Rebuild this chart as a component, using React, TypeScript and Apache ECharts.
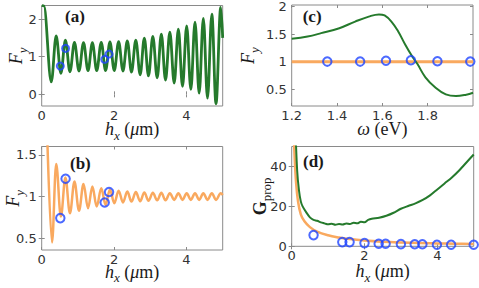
import React, { useEffect, useRef } from 'react';
import * as echarts from 'echarts';

// ---------- data ----------
// shared positions of the oscillation extrema (peaks / troughs) in h_x (μm)
const hxExtrema = [0.40, 0.53, 0.655, 0.78, 0.905, 1.03, 1.155, 1.28, 1.40, 1.52, 1.645, 1.765, 1.885, 2.005, 2.125, 2.245, 2.365, 2.48, 2.60, 2.72, 2.835, 2.95, 3.07, 3.19, 3.305, 3.42, 3.54, 3.66, 3.775, 3.89, 4.005, 4.12, 4.235, 4.35, 4.465, 4.58, 4.70, 4.815, 4.945];

// (a) green F_y
const hxA = [0, 0.06, 0.265, ...hxExtrema, 5.0];
const fyA = [2.36, 2.35, 0.33,
  1.55, 0.56, 1.44, 0.60, 1.38, 0.62, 1.37, 0.63, 1.37, 0.63, 1.38, 0.63, 1.39, 0.63, 1.40, 0.62, 1.42, 0.59,
  1.44, 0.52, 1.49, 0.49, 1.54, 0.44, 1.60, 0.38, 1.65, 0.30, 1.73, 0.21, 1.82, 0.13, 1.92, 0.03, 2.02, -0.10,
  2.13, -0.25, 2.31, 1.5];
const circHxA = [0.514, 0.66, 1.74, 1.86];
const circFyA = [0.75, 1.22, 0.93, 1.07];

// (b) orange F_y
const hxB = [0.11, 0.285, ...hxExtrema, 5.0];
const fyB = [2.4, 0.45,
  1.39, 0.76, 1.23, 0.80, 1.18, 0.83, 1.15, 0.86, 1.12, 0.88, 1.10, 0.90, 1.085, 0.92, 1.07, 0.93, 1.06, 0.94,
  1.055, 0.945, 1.05, 0.95, 1.045, 0.955, 1.045, 0.955, 1.04, 0.96, 1.04, 0.96, 1.04, 0.96, 1.04, 0.96, 1.04, 0.96,
  1.04, 0.96, 1.04, 1.02];
const circHxB = [0.514, 0.66, 1.74, 1.86];
const circFyB = [0.742, 1.214, 0.929, 1.055];

// (c) F_y vs ω (eV)
const omegaGreen = [1.2, 1.27, 1.33, 1.41, 1.48, 1.54, 1.585, 1.61, 1.64, 1.67, 1.70, 1.73, 1.755, 1.79, 1.835, 1.88, 1.925, 1.97, 2.0];
const fyGreenC = [1.42, 1.46, 1.52, 1.61, 1.73, 1.82, 1.86, 1.84, 1.73, 1.55, 1.32, 1.11, 0.96, 0.72, 0.53, 0.41, 0.38, 0.405, 0.44];
const omegaOrange = [1.2, 1.4, 1.6, 1.8, 2.0];
const fyOrangeC = [1.0, 1.0, 1.0, 1.0, 1.0];
const omegaCirc = [1.357, 1.502, 1.616, 1.726, 1.843, 1.988];
const fyCircC = [1.005, 1.005, 1.02, 1.03, 1.01, 1.005];

// (d) G_prop vs h_x
const hxDGreen = [0.1, 0.15, 0.2, 0.25, 0.3, 0.4, 0.5, 0.6, 0.7, 0.8, 0.9, 1.0, 1.1, 1.2, 1.3, 1.4, 1.5, 1.6, 1.7, 1.8, 1.9, 2.0, 2.1, 2.2, 2.4, 2.6, 2.8, 3.0, 3.2, 3.4, 3.6, 3.8, 4.0, 4.2, 4.4, 4.6, 4.8, 5.0];
const gDGreen = [60, 38, 28, 22.5, 20, 17, 14.5, 13.2, 12.8, 12, 11.5, 11, 11.3, 10.8, 11.2, 10.9, 11.4, 11.2, 11.8, 11.5, 12.3, 12.0, 13.2, 13.8, 14.3, 15.3, 16.8, 18.8, 20.2, 21.5, 23.2, 25.5, 28.5, 31.5, 34.5, 38, 42, 46];
const hxDOrange = [0.05, 0.08, 0.12, 0.17, 0.25, 0.35, 0.5, 0.7, 1.0, 1.3, 1.6, 2.0, 2.5, 3.0, 3.5, 4.0, 4.5, 5.0];
const gDOrange = [60, 45, 32, 23, 16, 12.5, 9.6, 7.3, 5.5, 4.4, 3.6, 2.9, 2.3, 1.9, 1.6, 1.45, 1.3, 1.2];
const hxDCirc = [0.6, 1.39, 1.59, 2.0, 2.39, 2.58, 3.0, 3.38, 3.59, 3.99, 4.38, 5.0];
const gDCirc = [5.6, 2.1, 2.1, 1.6, 1.25, 1.25, 1.1, 1.0, 1.0, 0.8, 0.8, 0.8];

// tick values
const xTicksH = [0, 2, 4];
const yTicksA = [0, 1, 2];
const yTicksB = [0.5, 1, 1.5];
const xTicksC = [1.2, 1.4, 1.6, 1.8];
const yTicksC = [0.5, 1, 1.5, 2];
const yTicksD = [0, 20, 40];

// ---------- styling ----------
const GREEN = '#257a2c';
const ORANGE = '#f9a95f';
const BLUE = '#1f45ff';
const BOX = '#8a8a8a';
const SERIF = 'Liberation Serif';
const TICKFONT = 'DejaVu Sans';

const RICH = {
  i: { fontFamily: SERIF, fontStyle: 'italic', fontSize: 18, lineHeight: 19, verticalAlign: 'top', color: '#1a1a1a' },
  n: { fontFamily: SERIF, fontSize: 18, lineHeight: 19, verticalAlign: 'top', color: '#1a1a1a' },
  b: { fontFamily: SERIF, fontWeight: 'bold', fontSize: 18, lineHeight: 19, verticalAlign: 'top', color: '#1a1a1a' },
  s: { fontFamily: SERIF, fontStyle: 'italic', fontSize: 13, lineHeight: 13, padding: [8.8, 0, 0, 0], verticalAlign: 'top', color: '#1a1a1a' },
  sn: { fontFamily: SERIF, fontSize: 13, lineHeight: 13, padding: [8.8, 0, 0, 0], verticalAlign: 'top', color: '#1a1a1a' },
};

const zip = (xs: number[], ys: number[]) => xs.map((x, i) => [x, ys[i]]);

type AxisSpec = { min: number; max: number; ticks: number[]; name: string; gap: number; fmt?: (v: number) => string };

function makeAxes(gi: number, xs: AxisSpec, ys: AxisSpec) {
  const tick = (ticks: number[]) => ({ show: true, inside: true, length: 3, customValues: ticks, lineStyle: { color: BOX, width: 1 } });
  const label = (ticks: number[], fmt?: (v: number) => string, margin = 5) => ({
    show: true, customValues: ticks, margin, fontFamily: TICKFONT, fontSize: 13, color: '#333',
    formatter: fmt || ((v: number) => String(v)),
  });
  const common = { type: 'value', gridIndex: gi, axisLine: { show: false }, splitLine: { show: false } };
  const nameStyle = { fontFamily: SERIF, fontSize: 18, rich: RICH };
  const xAxes = [
    { ...common, position: 'bottom', min: xs.min, max: xs.max, axisTick: tick(xs.ticks), axisLabel: label(xs.ticks, xs.fmt, 3),
      name: xs.name, nameLocation: 'middle', nameGap: xs.gap, nameMoveOverlap: false, nameTextStyle: nameStyle },
    { ...common, position: 'top', min: xs.min, max: xs.max, axisTick: tick(xs.ticks), axisLabel: { show: false } },
  ];
  const yAxes = [
    { ...common, position: 'left', min: ys.min, max: ys.max, axisTick: tick(ys.ticks), axisLabel: label(ys.ticks, ys.fmt, 5),
      name: ys.name, nameLocation: 'middle', nameRotate: 90, nameGap: ys.gap, nameMoveOverlap: false, nameTextStyle: nameStyle },
    { ...common, position: 'right', min: ys.min, max: ys.max, axisTick: tick(ys.ticks), axisLabel: { show: false } },
  ];
  return { xAxes, yAxes };
}

const hName = '{i|h}{s|x}{n| (}{i|μ}{n|m)}';
const fName = '{i|F}{s|y}';

const panels = [
  makeAxes(0, { min: 0, max: 5, ticks: xTicksH, name: hName, gap: 14 }, { min: -0.31, max: 2.36, ticks: yTicksA, name: fName, gap: 15.5 }),
  makeAxes(1, { min: 1.2, max: 2.0, ticks: xTicksC, name: '{i|ω}{n| (eV)}', gap: 13.5, fmt: (v) => v.toFixed(1) }, { min: 0.2, max: 2.03, ticks: yTicksC, name: fName, gap: 34 }),
  makeAxes(2, { min: 0, max: 5, ticks: xTicksH, name: hName, gap: 12.5 }, { min: 0.36, max: 1.6, ticks: yTicksB, name: fName, gap: 19 }),
  makeAxes(3, { min: 0, max: 5, ticks: xTicksH, name: hName, gap: 16 }, { min: 0, max: 50, ticks: yTicksD, name: '{b|G}{sn|prop}', gap: 22 }),
];

const gridBase = { show: true, borderColor: BOX, borderWidth: 1, backgroundColor: 'transparent', containLabel: false, outerBoundsMode: 'none' };

const lineSeries = (p: number, data: number[][], color: string, width: number, extra: any = {}) => ({
  type: 'line', xAxisIndex: 2 * p, yAxisIndex: 2 * p, data, showSymbol: false, symbol: 'none', clip: true,
  lineStyle: { color, width }, z: 2, silent: true, ...extra,
});
const circleSeries = (p: number, data: number[][], size: number) => ({
  type: 'scatter', xAxisIndex: 2 * p, yAxisIndex: 2 * p, data, symbol: 'circle', symbolSize: size, z: 5, silent: true,
  itemStyle: { color: 'rgba(0,0,0,0)', borderColor: BLUE, borderWidth: 2 },
});

const panelLabel = (text: string, x: number, y: number) => ({
  type: 'text', x, y, z: 10,
  style: { text, font: `bold 17px "${SERIF}"`, fill: '#1a1a1a', textVerticalAlign: 'middle', verticalAlign: 'middle' },
});

const option = {
  animation: false,
  grid: [
    { ...gridBase, left: 41.7, top: 5.5, width: 181, height: 100.5 },
    { ...gridBase, left: 291.7, top: 5, width: 181.3, height: 101 },
    { ...gridBase, left: 41.7, top: 146.5, width: 181, height: 103.5 },
    { ...gridBase, left: 291.7, top: 146.5, width: 182, height: 99.8 },
  ],
  xAxis: panels.flatMap((p) => p.xAxes),
  yAxis: panels.flatMap((p) => p.yAxes),
  series: [
    lineSeries(0, zip(hxA, fyA), GREEN, 2.8, { smooth: 0.36, smoothMonotone: 'x' }),
    circleSeries(0, zip(circHxA, circFyA), 7),
    lineSeries(1, zip(omegaOrange, fyOrangeC), ORANGE, 3),
    lineSeries(1, zip(omegaGreen, fyGreenC), GREEN, 2, { smooth: 0.4 }),
    circleSeries(1, zip(omegaCirc, fyCircC), 8.5),
    lineSeries(2, zip(hxB, fyB), ORANGE, 2.5, { smooth: 0.36, smoothMonotone: 'x' }),
    circleSeries(2, zip(circHxB, circFyB), 8.5),
    lineSeries(3, zip(hxDOrange, gDOrange), ORANGE, 2.5, { smooth: 0.4 }),
    lineSeries(3, zip(hxDGreen, gDGreen), GREEN, 2, { smooth: 0.3 }),
    circleSeries(3, zip(hxDCirc, gDCirc), 8.5),
  ],
  graphic: [
    panelLabel('(a)', 65, 16.5),
    panelLabel('(c)', 302.7, 16.5),
    panelLabel('(b)', 70, 163),
    panelLabel('(d)', 303, 161.5),
  ],
};

export default function App() {
  const ref = useRef<HTMLDivElement>(null);
  useEffect(() => {
    if (!ref.current) return;
    const chart = echarts.init(ref.current, null, { renderer: 'svg' });
    chart.setOption(option as any);
    return () => chart.dispose();
  }, []);
  return <div ref={ref} style={{ position: 'fixed', left: 0, top: 0, width: 479, height: 288, background: '#fff' }} />;
}
